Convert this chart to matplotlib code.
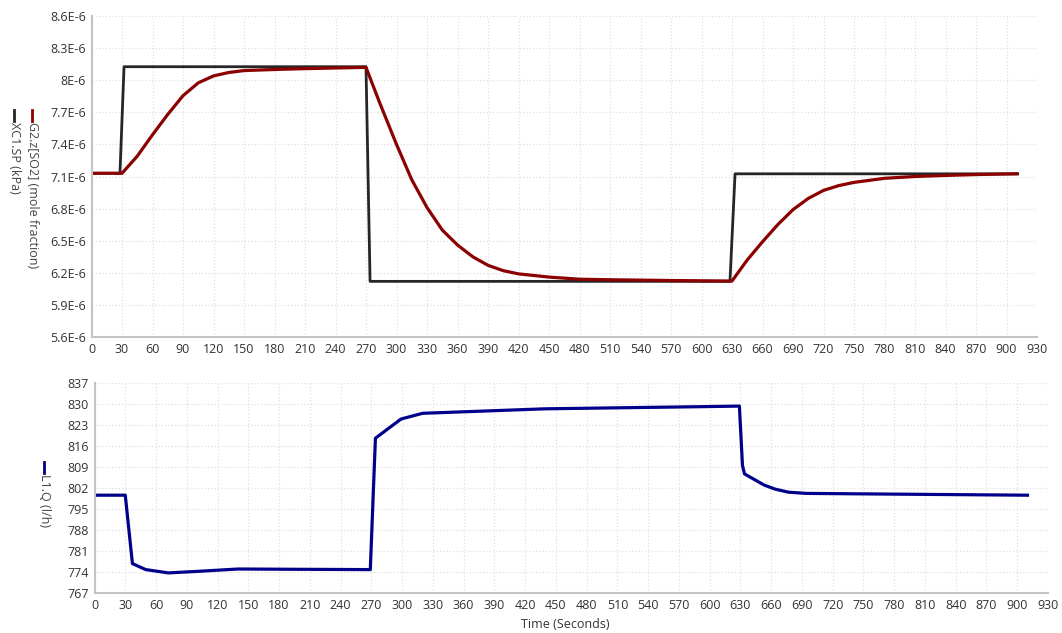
import numpy as np
import matplotlib
matplotlib.use("Agg")
import matplotlib.pyplot as plt
from matplotlib.lines import Line2D
from matplotlib.ticker import FuncFormatter

plt.rcParams['font.family'] = ['Open Sans', 'DejaVu Sans']

# ===== data =====
sp_t = [0, 28, 32, 270, 274, 628, 633, 911]
sp_v = [7.13, 7.13, 8.126, 8.126, 6.12, 6.12, 7.125, 7.125]      # XC1.SP, x1e-6

so2_t = [0, 30, 45, 60, 75, 90, 105, 120, 135, 150, 180, 210, 240, 270,
         283, 300, 315, 330, 345, 360, 375, 390, 405, 420, 450, 480, 510, 570, 630,
         645, 660, 675, 690, 705, 720, 735, 750, 780, 810, 840, 870, 910]
so2_v = [7.13, 7.13, 7.29, 7.49, 7.68, 7.855, 7.975, 8.04, 8.072, 8.09, 8.10, 8.108, 8.114, 8.12,
         7.80, 7.40, 7.07, 6.81, 6.60, 6.46, 6.35, 6.27, 6.22, 6.19, 6.16, 6.14, 6.135, 6.128, 6.123,
         6.32, 6.49, 6.65, 6.79, 6.895, 6.97, 7.015, 7.045, 7.083, 7.10, 7.11, 7.118, 7.125]

q_t = [0, 30, 37, 50, 72, 100, 140, 200, 269, 274, 299, 320, 440, 590,
       629, 632, 634, 653, 664, 677, 694, 800, 910]
q_v = [799.6, 799.6, 776.8, 774.8, 773.7, 774.2, 775.0, 774.9, 774.8, 818.6, 825.0, 826.9, 828.4, 829.1,
       829.3, 809.5, 806.7, 803.0, 801.6, 800.6, 800.2, 799.9, 799.6]

x_ticks = np.arange(0, 931, 30)
top_ticks = np.round(np.arange(5.6, 8.61, 0.3), 1)
bot_ticks = np.arange(767, 838, 7)

# ===== figure =====
W, H = 1062, 633
fig = plt.figure(figsize=(W / 100, H / 100), dpi=100)

def px_box(x0, x1, ytop, ybot):
    return [x0 / W, 1 - ybot / H, (x1 - x0) / W, (ybot - ytop) / H]

def style(ax):
    for s in ['top', 'right']:
        ax.spines[s].set_visible(False)
    for s in ['left', 'bottom']:
        ax.spines[s].set_color('#c4c4c4')
        ax.spines[s].set_linewidth(1.5)
    ax.grid(True, linestyle=':', color='#e0e0e0', linewidth=0.9)
    ax.tick_params(length=0, labelsize=9, colors='#333333', pad=4)
    ax.set_xlim(0, 930)
    ax.set_xticks(x_ticks)

ax1 = fig.add_axes(px_box(91.5, 1037, 16, 337))
style(ax1)
ax1.plot(sp_t, np.array(sp_v) * 1e-6, color='#262626', lw=2.0)
ax1.plot(so2_t, np.array(so2_v) * 1e-6, color='#8b0000', lw=2.3)
ax1.set_ylim(5.6e-6, 8.6e-6)
ax1.set_yticks(top_ticks * 1e-6)
ax1.yaxis.set_major_formatter(FuncFormatter(lambda v, p: f"{v * 1e6:g}E-6"))

ax2 = fig.add_axes(px_box(94.5, 1048, 383, 593))
style(ax2)
ax2.plot(q_t, q_v, color='#00008b', lw=2.3)
ax2.set_ylim(767, 837)
ax2.set_yticks(bot_ticks)

# ===== rotated series labels =====
def series_label(x, y0, text, color):
    fig.add_artist(Line2D([x / W, x / W], [1 - y0 / H, 1 - (y0 + 11) / H],
                          transform=fig.transFigure, color=color, lw=2))
    fig.text(x / W, 1 - (y0 + 12) / H, text, rotation=270, ha='center', va='top',
             fontsize=9, color='#444444')

series_label(32, 110, 'G2.z[SO2] (mole fraction)', '#8b0000')
series_label(14, 110, 'XC1.SP (kPa)', '#262626')
series_label(44, 462, 'L1.Q (l/h)', '#00008b')

fig.text(565 / W, 1 - 625 / H, 'Time (Seconds)', ha='center', va='center',
         fontsize=9, color='#333333')

plt.savefig('out.png', dpi=100)
